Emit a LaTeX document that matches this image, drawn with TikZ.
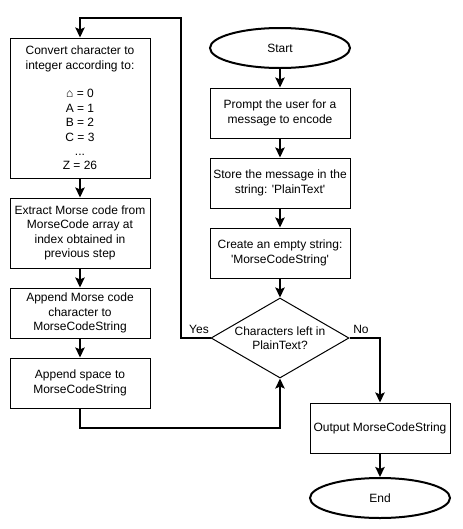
\documentclass[tikz,border=0pt]{standalone}
\usepackage{fontspec}
\setmainfont{Liberation Sans}
\usetikzlibrary{shapes.geometric,arrows.meta}
\begin{document}
\begin{tikzpicture}[x=0.75pt,y=-0.75pt,
  font=\fontsize{9}{10.8}\selectfont,
  box/.style={draw=black,line width=0.75pt,rectangle,minimum width=105pt,inner sep=0pt,align=center,fill=white},
  term/.style={draw=black,line width=1.5pt,ellipse,minimum width=105pt,minimum height=30pt,inner sep=0pt},
  arr/.style={line width=1.5pt,-{Stealth[length=7.5pt,width=7pt,inset=1.5pt]}},
  lbl/.style={inner sep=0pt}]
\useasboundingbox (0,0) rectangle (462,529);
% right column
\node[term] (start) at (280,48) {Start};
\node[box,minimum height=37.5pt] (prompt) at (280,113) {Prompt the user for a\\message to encode};
\node[box,minimum height=37.5pt] (store) at (280,183) {Store the message in the\\string: \textquotesingle PlainText\textquotesingle};
\node[box,minimum height=37.5pt] (create) at (280,253) {Create an empty string:\\\textquotesingle MorseCodeString\textquotesingle};
\node[draw=black,line width=0.75pt,diamond,minimum width=103.5pt,minimum height=60pt,inner sep=0pt] (dec) at (280,338) {};
\node[lbl,align=center] (dectext) at (280,338) {Characters left in\\PlainText?};
\node[box,minimum height=37.5pt] (output) at (380,428) {Output MorseCodeString};
\node[term] (end) at (380,498) {End};
% left column
\node[box,minimum height=105pt] (conv) at (80,108) {Convert character to\\integer according to:\\[10.8pt]⌂ = 0\\A = 1\\B = 2\\C = 3\\...\\Z = 26};
\node[box,minimum height=52.5pt] (extract) at (80,233) {Extract Morse code from\\MorseCode array at\\index obtained in\\previous step};
\node[box,minimum height=37.5pt] (app1) at (80,313) {Append Morse code\\character to\\MorseCodeString};
\node[box,minimum height=37.5pt] (app2) at (80,383) {Append space to\\MorseCodeString};
% coordinates for loops
\coordinate (ctop) at (181,18);
\coordinate (cbot) at (80,428);
% connectors
\draw[arr] (start) -- (prompt);
\draw[arr] (prompt) -- (store);
\draw[arr] (store) -- (create);
\draw[arr] (create) -- (dec.north);
\draw[arr] (output) -- (end);
\draw[arr] (conv) -- (extract);
\draw[arr] (extract) -- (app1);
\draw[arr] (app1) -- (app2);
\draw[arr] (dec.west) -| (ctop) -| (conv.north);
\draw[arr] (dec.east) -| (output.north);
\draw[arr] (app2.south) -- (cbot) -| (dec.south);
\node[lbl] (yes) at (199,329) {Yes};
\node[lbl] (no) at (361,329) {No};
\end{tikzpicture}
\end{document}
